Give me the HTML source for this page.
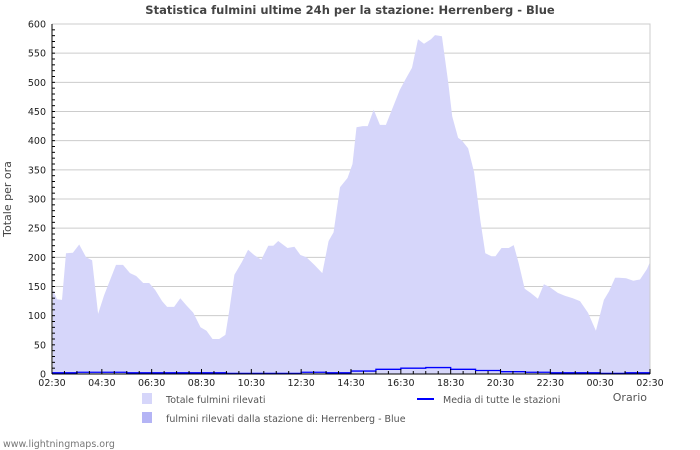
<!DOCTYPE html>
<html><head><meta charset="utf-8"><style>
html,body{margin:0;padding:0;background:#fff;width:700px;height:450px;overflow:hidden}
svg text{font-family:"DejaVu Sans","Liberation Sans",sans-serif}
</style></head><body>
<svg id="chart" width="700" height="450" xmlns="http://www.w3.org/2000/svg">
<text x="350" y="14" text-anchor="middle" font-size="11.5" font-weight="bold" fill="#444">Statistica fulmini ultime 24h per la stazione: Herrenberg - Blue</text>
<text transform="translate(11,199) rotate(-90)" text-anchor="middle" font-size="11" fill="#444">Totale per ora</text>
<text x="647" y="401" text-anchor="end" font-size="11" fill="#555">Orario</text>
<g id="grid"></g><g id="series"></g><g id="axes"></g>
<rect x="142" y="393" width="10" height="11" fill="#d6d6fa"/>
<text x="166" y="403" font-size="9.5" fill="#555">Totale fulmini rilevati</text>
<rect x="142" y="412" width="10" height="11" fill="#b4b4f5"/>
<text x="166" y="422" font-size="9.5" fill="#555">fulmini rilevati dalla stazione di: Herrenberg - Blue</text>
<line x1="417" y1="399" x2="434" y2="399" stroke="#00f" stroke-width="2"/>
<text x="443" y="403" font-size="9.5" fill="#555">Media di tutte le stazioni</text>
<text x="3" y="447" font-size="9.5" fill="#777">www.lightningmaps.org</text>
</svg>
<script>
const times=[0.04,0.2,0.4,0.56,0.84,1.09,1.37,1.61,1.85,2.09,2.57,2.85,3.13,3.38,3.66,3.9,4.14,4.42,4.62,4.9,5.15,5.39,5.67,5.96,6.2,6.44,6.71,6.96,7.12,7.32,7.62,7.87,8.11,8.4,8.68,8.88,9.08,9.45,9.73,9.97,10.21,10.53,10.85,11.1,11.3,11.56,11.86,12.06,12.22,12.47,12.67,12.91,13.16,13.4,13.96,14.2,14.45,14.69,14.93,15.21,15.37,15.65,15.9,16.06,16.3,16.46,16.7,16.94,17.19,17.39,17.64,17.8,18.04,18.33,18.53,18.73,18.97,19.21,19.5,19.74,19.98,20.3,20.58,20.9,21.19,21.51,21.83,22.15,22.36,22.6,22.76,23.04,23.33,23.6,23.88,24.0];
const totals=[144,128,127,207,208,222,200,195,103,135,187,187,173,168,156,156,144,125,115,115,130,118,105,80,74,60,60,67,110,170,192,213,204,196,220,220,228,216,218,204,200,187,173,228,243,320,336,360,423,425,425,453,427,427,487,506,525,574,566,574,581,579,500,442,405,400,387,346,264,207,202,202,216,216,221,190,146,139,129,154,149,139,134,130,125,105,74,127,142,165,165,164,160,162,180,192];
const avgHours=[0,1,2,3,4,5,6,7,8,9,10,11,12,13,14,15,16,17,18,19,20,21,22,23];
const avgValues=[2,3,3,2,2,2,2,1,1,1,3,2,5,8,10,11,8,6,4,3,2,2,1,2];
const yTicks=[0,50,100,150,200,250,300,350,400,450,500,550,600];
const xTickLabels=["02:30","04:30","06:30","08:30","10:30","12:30","14:30","16:30","18:30","20:30","22:30","00:30","02:30"];
const NS="http://www.w3.org/2000/svg";
const L=52,R=650,T=24,B=374;
const X=h=>L+(R-L)*h/24, Y=v=>B-(B-T)*v/600;
function mk(tag,attrs,parent){const e=document.createElementNS(NS,tag);for(const k in attrs)e.setAttribute(k,attrs[k]);parent.appendChild(e);return e;}
const grid=document.getElementById('grid'),ser=document.getElementById('series'),ax=document.getElementById('axes');
yTicks.forEach(v=>{
  if(v>0){const g=mk('line',{x1:L,x2:R,y1:Y(v),y2:Y(v),stroke:'#ccc','stroke-width':1},grid);
  
  }
  const t=mk('text',{x:L-6,y:Y(v)+3.5,'text-anchor':'end','font-size':9.5,fill:'#222'},ax);t.textContent=v;
  
  
});
for(let v=0;v<=600;v+=10){mk('line',{x1:L,x2:L+3,y1:Y(v),y2:Y(v),stroke:'#000','stroke-width':1},ax);}
let d='M'+X(times[0])+','+Y(0);
times.forEach((h,i)=>{d+=' L'+X(h).toFixed(1)+','+Y(totals[i]).toFixed(1);});
d+=' L'+X(times[times.length-1])+','+Y(0)+' Z';
const area=mk('path',{d:d,fill:'#d6d6fa',stroke:'none'},ser);


let s='';
avgHours.forEach((h,i)=>{s+=(i?' L':'M')+X(h)+','+Y(avgValues[i])+' L'+X(h+1)+','+Y(avgValues[i]);});
const avg=mk('path',{d:s,fill:'none',stroke:'#00f','stroke-width':1.3},ser);


const bx=mk('path',{d:`M${L},${T} L${R},${T} L${R},${B}`,fill:'none',stroke:'#ccc'},ax);


const yl=mk('line',{x1:L,x2:L,y1:T,y2:B,stroke:'#000'},ax);


const xl=mk('line',{x1:L,x2:R,y1:B,y2:B,stroke:'#000'},ax);


for(let h=0;h<=24;h+=0.5){const maj=(h%2===0);mk('line',{x1:X(h),x2:X(h),y1:B,y2:B-(maj?5:3),stroke:'#000'},ax);}
xTickLabels.forEach((lab,i)=>{const t=mk('text',{x:X(i*2),y:B+12,'text-anchor':'middle','font-size':9.5,fill:'#222'},ax);t.textContent=lab;

});
</script>
</body></html>
